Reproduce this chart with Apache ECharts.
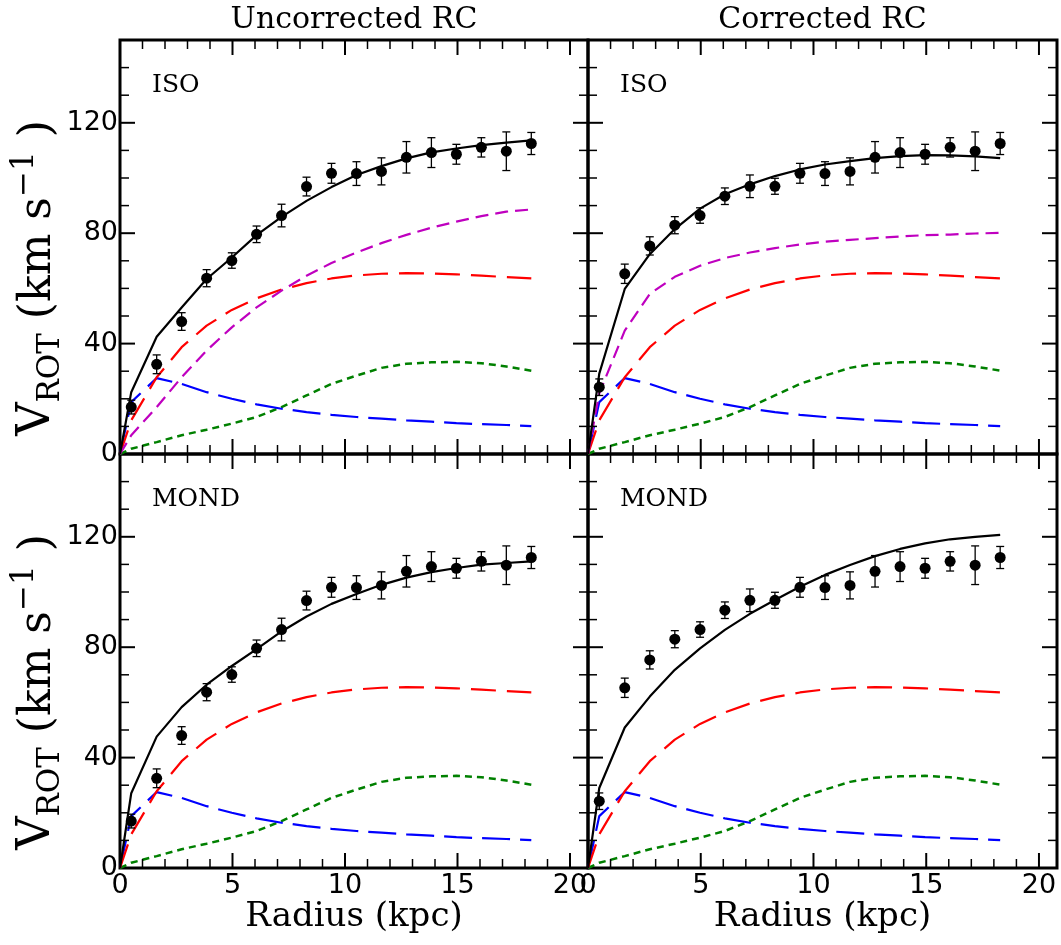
<!DOCTYPE html>
<html><head><meta charset="utf-8">
<script src="https://cdn.jsdelivr.net/npm/echarts@6/dist/echarts.min.js"></script>
<style>html,body{margin:0;padding:0;background:#fff}#c{width:1061px;height:945px}</style>
</head><body><div id="c"></div>
<script>
// ---------- data ----------
const radius = [0.50,1.63,2.74,3.85,4.97,6.07,7.18,8.29,9.40,10.51,11.62,12.73,13.84,14.95,16.06,17.17,18.28];
const vUncorrected = [17.0,32.5,48.0,63.7,70.1,79.6,86.4,96.9,101.7,101.6,102.4,107.5,109.2,108.6,111.1,109.7,112.5];
const errUncorrected = [2.5,3.4,3.2,3.1,2.8,3.0,4.1,3.4,3.6,4.3,4.9,5.7,5.4,3.6,3.5,7.0,4.0];
const vCorrected = [24.2,65.3,75.4,82.9,86.4,93.4,97.0,97.0,101.7,101.6,102.4,107.5,109.2,108.6,111.1,109.7,112.5];
const errCorrected = [3.0,3.5,3.3,3.1,2.8,3.0,4.1,2.9,3.6,4.3,4.9,5.7,5.4,3.6,3.5,7.0,4.0];
const modelRadius = [0,0.50,1.63,2.74,3.85,4.97,6.07,7.18,8.29,9.40,10.51,11.62,12.73,13.84,14.95,16.06,17.17,18.28];
const vBulge = [0,18.8,27.5,25.4,22.4,20.0,18.0,16.4,15.2,14.2,13.4,12.8,12.2,11.7,11.2,10.8,10.5,10.1];
const vDisk = [0,12.2,27.8,38.7,46.5,52.2,56.4,59.6,61.9,63.6,64.7,65.3,65.5,65.4,65.1,64.6,64.1,63.6];
const vGas = [0,1.9,4.3,6.8,8.8,11.0,13.4,17.0,21.2,25.4,28.4,31.2,32.7,33.2,33.4,32.9,31.7,30.2];
const vHaloIsoUncorr = [0,6.8,17.0,27.8,37.5,45.9,53.1,59.2,64.6,69.2,73.0,76.4,79.4,82.0,84.2,86.2,87.8,88.6];
const vHaloIsoCorr = [0,22.0,44.7,58.0,64.2,68.2,71.0,73.0,74.6,75.9,76.9,77.6,78.2,78.8,79.3,79.5,79.9,80.1];
const vTotIsoUncorr = [0,22.4,42.5,53.1,63.4,71.2,79.3,85.9,91.7,96.7,101.1,104.3,107.1,109.3,110.7,111.9,112.8,113.6];
const vTotIsoCorr = [0,29.1,59.8,72.4,81.5,88.9,94.1,97.7,100.7,103.1,104.9,106.1,107.2,107.9,108.3,108.2,107.8,107.2];
const vTotMondUncorr = [0,27.1,47.6,58.3,66.4,73.2,79.3,85.7,91.1,95.7,99.3,102.6,105.2,107.2,108.7,109.9,110.5,111.1];
const vTotMondCorr = [0,29.0,50.9,62.1,71.8,79.6,86.3,92.1,97.1,101.9,106.2,109.8,113.0,115.6,117.6,119.1,120.0,120.7];
const xTickLabels = [0,5,10,15,20];
const yTickLabels = [0,40,80,120];
const xMinorStep = 1, yMinorStep = 10;
const columnTitles = ['Uncorrected RC','Corrected RC'];
const rowLabels = ['ISO','MOND'];

// ---------- layout ----------
const X_MAX = 20.8, Y_MAX = 150;
const colLeft = [120, 588], colWidth = [468, 469];
const rowTop = [40, 454], rowHeight = [414, 414];
const MAJOR_LEN = 15, MINOR_LEN = 9, MAJOR_W = 2, MINOR_W = 1.5;

const grids = [], xAxes = [], yAxes = [], series = [];

function zip(xs, ys){ return xs.map((x,i)=>[x, ys[i]]); }

// inward tick marks on all four sides, placed at axis values through the panel's scales
const tickMarks = [];
for (let v = xMinorStep; v <= 20; v += xMinorStep) {
  const maj = xTickLabels.includes(v), L = maj ? MAJOR_LEN : MINOR_LEN, W = maj ? MAJOR_W : MINOR_W;
  tickMarks.push({value:[v, 0], symbolSize:[W, L], symbolOffset:[0, -L/2]});
  tickMarks.push({value:[v, Y_MAX], symbolSize:[W, L], symbolOffset:[0, L/2]});
}
for (let v = yMinorStep; v < Y_MAX; v += yMinorStep) {
  const maj = yTickLabels.includes(v), L = maj ? MAJOR_LEN : MINOR_LEN, W = maj ? MAJOR_W : MINOR_W;
  tickMarks.push({value:[0, v], symbolSize:[L, W], symbolOffset:[L/2, 0]});
  tickMarks.push({value:[X_MAX, v], symbolSize:[L, W], symbolOffset:[-L/2, 0]});
}

function errRender(params, api){
  const x = api.value(0), y = api.value(1), e = api.value(2);
  const t = api.coord([x, y + e]), b = api.coord([x, y - e]);
  const c = 4, st = {stroke:'#000', lineWidth:1.3};
  return {type:'group', children:[
    {type:'line', shape:{x1:t[0],y1:t[1],x2:b[0],y2:b[1]}, style:st},
    {type:'line', shape:{x1:t[0]-c,y1:t[1],x2:t[0]+c,y2:t[1]}, style:st},
    {type:'line', shape:{x1:b[0]-c,y1:b[1],x2:b[0]+c,y2:b[1]}, style:st}
  ]};
}

for (let row = 0; row < 2; row++) {
  for (let col = 0; col < 2; col++) {
    const g = grids.length;
    grids.push({left:colLeft[col], top:rowTop[row], width:colWidth[col], height:rowHeight[row],
      show:true, borderColor:'#000', borderWidth:3, outerBoundsMode:'none'});
    xAxes.push({gridIndex:g, type:'value', min:0, max:X_MAX, interval:5, position:'bottom',
      axisLine:{show:false, onZero:false}, splitLine:{show:false}, axisTick:{show:false},
      axisLabel:{show: row === 1, color:'#000', fontSize:27, fontFamily:'DejaVu Sans', margin:4,
        formatter: v => xTickLabels.includes(v) ? String(v) : ''}});
    yAxes.push({gridIndex:g, type:'value', min:0, max:Y_MAX, interval:10, position:'left',
      axisLine:{show:false, onZero:false}, splitLine:{show:false}, axisTick:{show:false},
      axisLabel:{show: col === 0, color:'#000', fontSize:27, fontFamily:'DejaVu Sans', margin:2,
        formatter: v => yTickLabels.includes(v) ? String(v) : ''}});
    const xi = g, yi = g;
    const obs = col === 0 ? vUncorrected : vCorrected;
    const err = col === 0 ? errUncorrected : errCorrected;
    let total, halo = null;
    if (row === 0) { total = col === 0 ? vTotIsoUncorr : vTotIsoCorr; halo = col === 0 ? vHaloIsoUncorr : vHaloIsoCorr; }
    else { total = col === 0 ? vTotMondUncorr : vTotMondCorr; }
    series.push({type:'scatter', name:'ticks', xAxisIndex:xi, yAxisIndex:yi, data: tickMarks,
      symbol:'rect', itemStyle:{color:'#000', opacity:1}, clip:false, silent:true, z:8, animation:false});
    const line = (name, data, color, type, width, z) => series.push({
      name, type:'line', xAxisIndex:xi, yAxisIndex:yi, data: zip(modelRadius, data),
      showSymbol:false, symbol:'none', animation:false, z,
      lineStyle:{color, width, type, opacity:1}});
    line('gas', vGas, '#008000', [7,5], 2.5, 3);
    line('bulge', vBulge, '#0000ff', [28,10], 2.2, 3);
    line('disk', vDisk, '#ff0000', [25,11], 2.2, 3);
    if (halo) line('halo', halo, '#bf00bf', [13,7], 2.2, 3);
    line('total', total, '#000000', 'solid', 2.2, 4);
    series.push({type:'custom', xAxisIndex:xi, yAxisIndex:yi, renderItem: errRender,
      data: radius.map((r,i)=>[r, obs[i], err[i]]), z:5, animation:false});
    series.push({type:'scatter', xAxisIndex:xi, yAxisIndex:yi, data: zip(radius, obs),
      symbol:'circle', symbolSize:11, itemStyle:{color:'#000', opacity:1}, z:6, animation:false});
  }
}

const serif = '"DejaVu Serif", serif';
const graphic = [];
columnTitles.forEach((t, c) => graphic.push({type:'text', x: colLeft[c] + colWidth[c]/2, y: 20,
  style:{text:t, fontSize:30, fontFamily:serif, fill:'#000', align:'center', verticalAlign:'middle'}}));
rowLabels.forEach((t, r) => [0,1].forEach(c => graphic.push({type:'text', x: colLeft[c] + 32, y: rowTop[r] + 45,
  style:{text:t, fontSize:25, fontFamily:serif, fill:'#000', align:'left', verticalAlign:'middle'}})));
[0,1].forEach(c => graphic.push({type:'text', x: colLeft[c] + colWidth[c]/2, y: 917,
  style:{text:'Radius (kpc)', fontSize:34, fontFamily:serif, fill:'#000', align:'center', verticalAlign:'middle'}}));
[0,1].forEach(r => graphic.push({type:'text', x: 38, y: rowTop[r] + rowHeight[r]/2 + 31, rotation: Math.PI/2,
  style:{text:'{v|V}{s|ROT}{n| (km s}{p|−1}{n| )}', fill:'#000', align:'center', verticalAlign:'middle',
    rich:{
      v:{fontSize:46, fontFamily:serif, verticalAlign:'bottom', padding:[0,0,6,0]},
      s:{fontSize:31, fontFamily:serif, verticalAlign:'bottom', padding:[0,0,0,0]},
      n:{fontSize:44, fontFamily:serif, verticalAlign:'bottom', padding:[0,0,6,0]},
      p:{fontSize:31, fontFamily:serif, verticalAlign:'bottom', padding:[0,0,26,0]}
    }}}));

const chart = echarts.init(document.getElementById('c'), null, {renderer:'canvas'});
chart.setOption({animation:false, backgroundColor:'#fff', grid:grids, xAxis:xAxes, yAxis:yAxes, series, graphic});
</script></body></html>
